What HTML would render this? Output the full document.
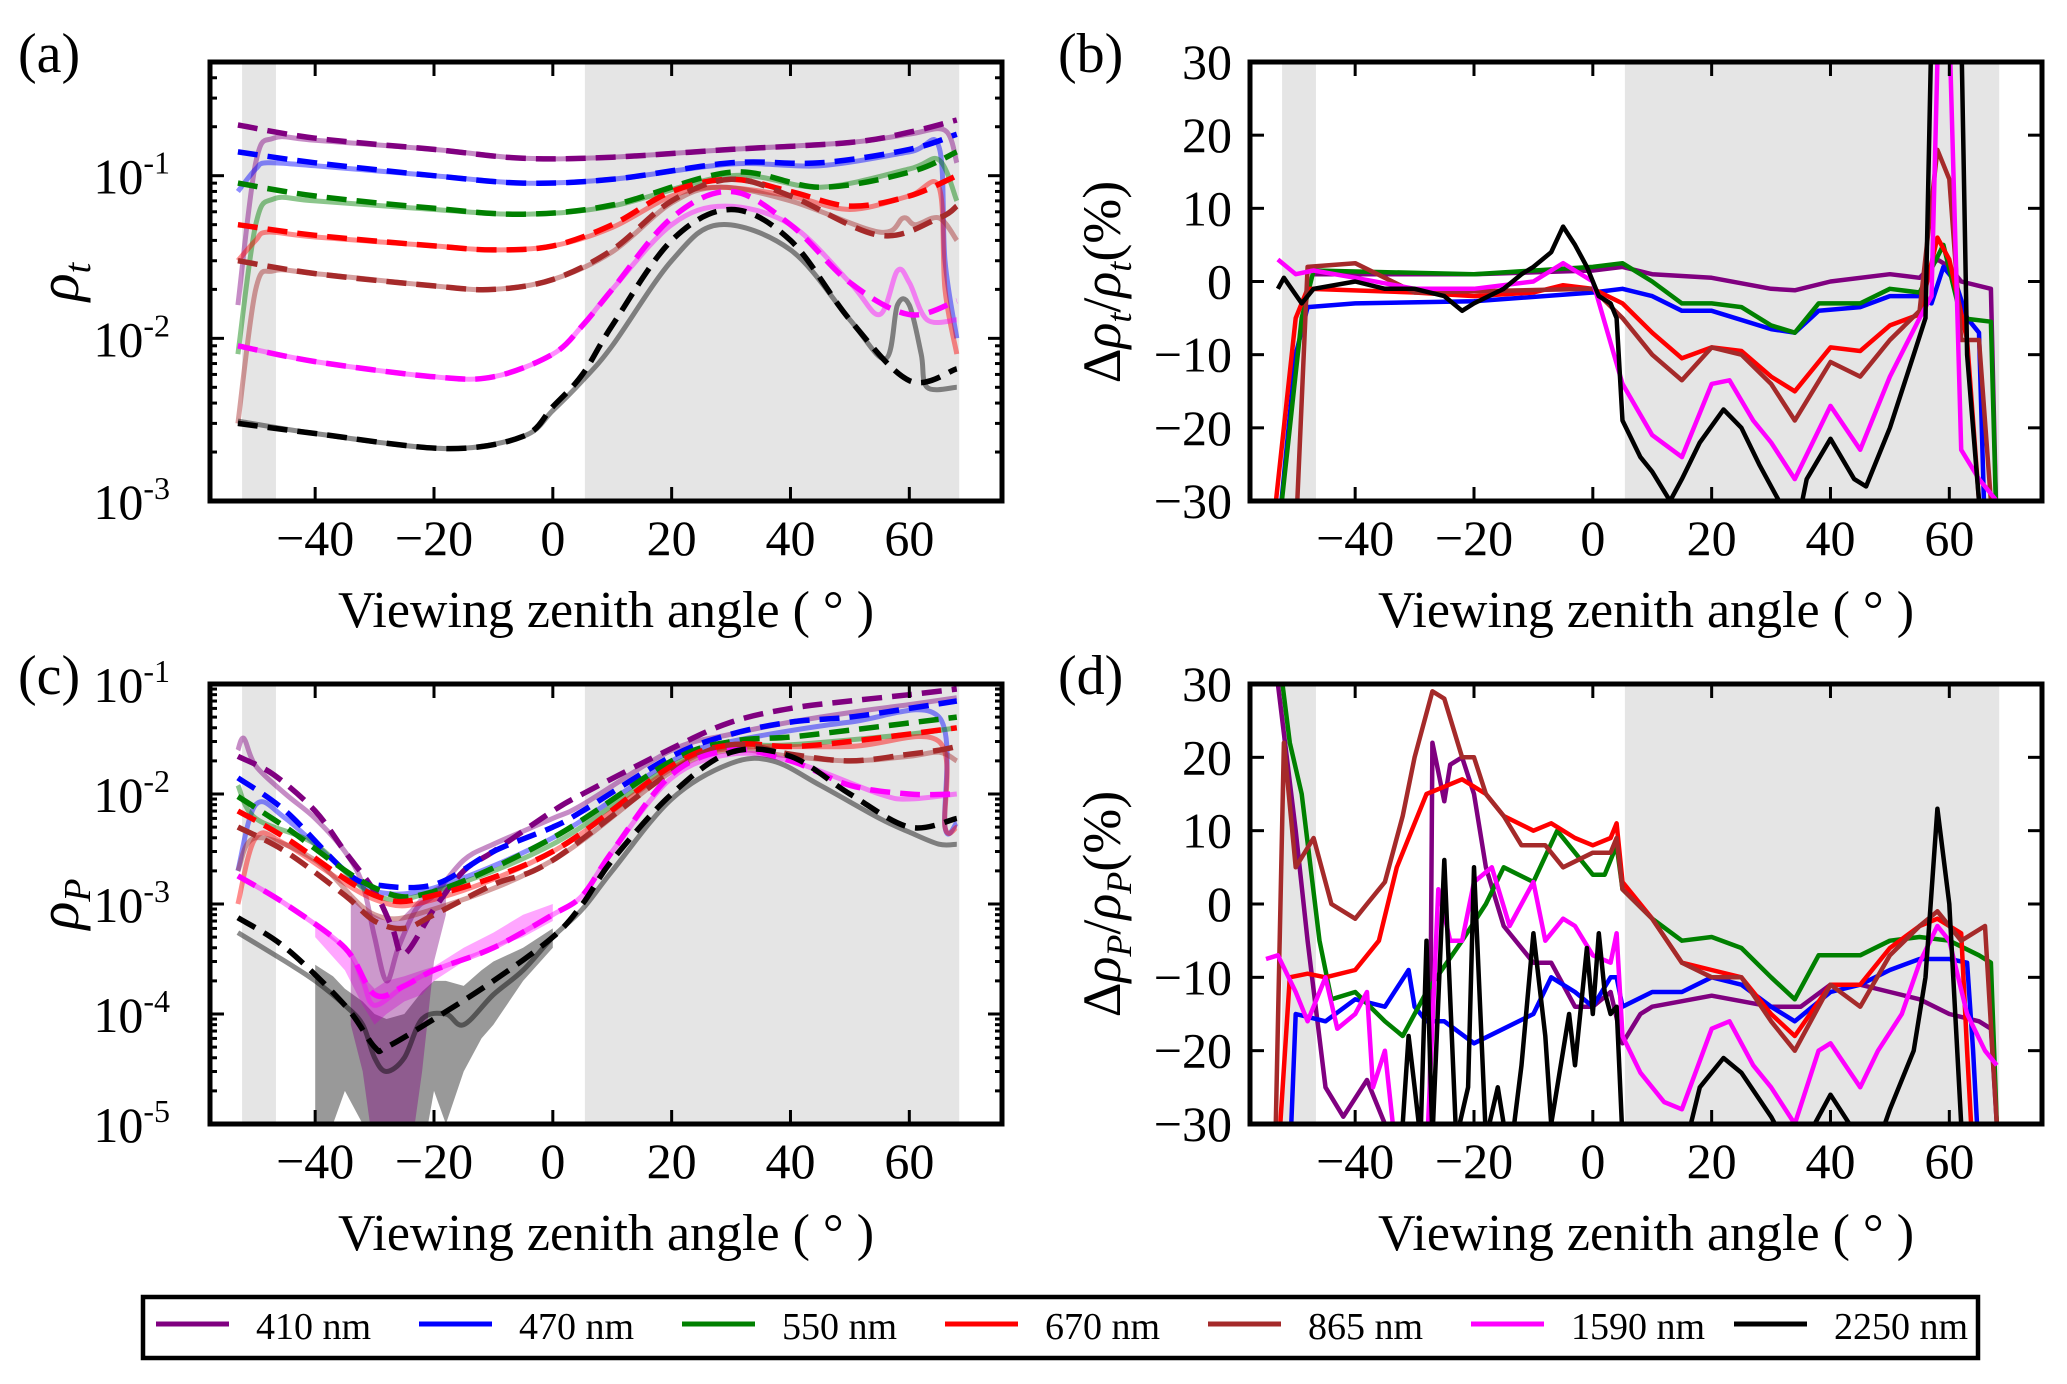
<!DOCTYPE html>
<html><head><meta charset="utf-8"><style>
html,body{margin:0;padding:0;background:#fff;}
svg{display:block;font-family:"Liberation Serif",serif;}
</style></head><body>
<svg id="fig" width="2067" height="1384" viewBox="0 0 2067 1384" xmlns="http://www.w3.org/2000/svg"></svg>
<script>
// ---------- shared ----------
const xTicks = [-40,-20,0,20,40,60];
const xTickLabels = ["\u221240","\u221220","0","20","40","60"];
const linTicks = [-30,-20,-10,0,10,20,30];
const linTickLabels = ["\u221230","\u221220","\u221210","0","10","20","30"];
const shadeBands = [[-52.3,-46.6],[5.4,68.4]];
const wavelengths = ["410 nm","470 nm","550 nm","670 nm","865 nm","1590 nm","2250 nm"];
const colors = ["#800080","#0000ff","#008000","#ff0000","#a52a2a","#ff00ff","#000000"];

// ---------- panel (a) rho_t : model (dashed) ----------
const aM410x=[-53,-40,-20,-5,10,30,50,60,68], aM410y=[0.205,0.17,0.145,0.128,0.13,0.145,0.16,0.185,0.22];
const aM470x=[-53,-40,-20,-5,10,30,45,60,68], aM470y=[0.14,0.12,0.1,0.09,0.095,0.12,0.12,0.145,0.18];
const aM550x=[-53,-40,-20,-5,10,30,45,60,68], aM550y=[0.09,0.075,0.063,0.058,0.066,0.105,0.085,0.105,0.14];
const aM670x=[-53,-40,-20,-10,0,10,20,30,40,50,60,68], aM670y=[0.05,0.043,0.037,0.035,0.037,0.05,0.08,0.095,0.08,0.065,0.075,0.1];
const aM865x=[-53,-40,-20,-10,0,10,20,30,40,55,65,68], aM865y=[0.03,0.025,0.021,0.02,0.023,0.035,0.07,0.095,0.075,0.043,0.055,0.065];
const aM1590x=[-53,-40,-20,-10,0,5,10,20,30,40,50,60,68], aM1590y=[0.009,0.0072,0.0058,0.0058,0.008,0.012,0.02,0.055,0.08,0.05,0.022,0.014,0.017];
const aM2250x=[-53,-40,-18,-5,0,5,10,20,30,40,50,60,68], aM2250y=[0.003,0.0026,0.0021,0.0025,0.0038,0.006,0.012,0.04,0.062,0.04,0.013,0.0055,0.0065];
// ---------- panel (a) rho_t : measured (solid) ----------
const aS410x=[-53,-50,-47,-40,-20,-5,10,30,50,60,66,68], aS410y=[0.016,0.12,0.17,0.165,0.145,0.128,0.13,0.145,0.16,0.18,0.19,0.12];
const aS470x=[-53,-50,-48,-40,-20,-5,10,30,45,60,65,66,68], aS470y=[0.08,0.11,0.12,0.115,0.1,0.09,0.095,0.118,0.115,0.14,0.15,0.03,0.01];
const aS550x=[-53,-50,-47,-40,-20,-5,10,30,45,60,65,68], aS550y=[0.008,0.05,0.072,0.07,0.062,0.058,0.065,0.1,0.085,0.11,0.125,0.07];
const aS670x=[-53,-50,-48,-40,-20,-10,0,10,20,28,40,50,60,65,66,68], aS670y=[0.03,0.04,0.045,0.042,0.037,0.035,0.037,0.048,0.075,0.085,0.075,0.062,0.075,0.085,0.02,0.008];
const aS865x=[-53,-50,-47,-40,-20,-10,0,10,20,28,40,55,59,61,65,68], aS865y=[0.003,0.02,0.026,0.025,0.021,0.02,0.023,0.034,0.068,0.085,0.07,0.045,0.055,0.05,0.055,0.04];
const aS1590x=[-53,-40,-20,-10,0,5,10,20,29,40,50,55,58,60,63,68], aS1590y=[0.009,0.0072,0.0058,0.0058,0.008,0.012,0.02,0.05,0.065,0.05,0.022,0.014,0.026,0.022,0.013,0.013];
const aS2250x=[-53,-40,-18,-5,0,5,10,20,28,40,50,56,58,60,62,63,68], aS2250y=[0.0031,0.0026,0.0021,0.0025,0.0036,0.0055,0.009,0.03,0.05,0.035,0.013,0.0075,0.016,0.016,0.008,0.005,0.005];

// ---------- panel (b) delta rho_t (%) ----------
const b410x=[-47,-40,-20,0,5,10,20,30,34,40,50,55,58,60,62,67,68], b410y=[1,1,1,1.5,2,1,0.5,-1,-1.2,0,1,0.5,3,2,0,-1,-35];
const b470x=[-53,-50,-48,-40,-20,0,5,10,15,20,30,34,38,45,50,55,57,59,61,63,65,66], b470y=[-35,-10,-3.5,-3,-2.7,-1.5,-1,-2,-4,-4,-6.5,-7,-4,-3.5,-2,-2,-3,2,0,-5,-7,-35];
const b550x=[-53,-49,-47,-20,0,5,10,15,20,25,30,34,38,45,50,55,59,62,67,68], b550y=[-35,-5,1.5,1,2,2.5,0,-3,-3,-3.5,-6,-7,-3,-3,-1,-1.5,5,-5,-5.5,-35];
const b670x=[-54,-50,-48,-30,-20,-10,-5,0,5,10,15,20,25,30,34,40,45,50,55,58,60,63,65,66], b670y=[-35,-5,-1,-1.5,-2,-1.5,-0.5,-1,-3,-7,-10.5,-9,-9.5,-13,-15,-9,-9.5,-6,-4.5,6,3,-8,-30,-35];
const b865x=[-50,-48,-40,-30,0,5,10,15,20,25,30,34,40,45,50,55,58,60,62,65,67], b865y=[-35,2,2.5,-1.5,-1,-5,-10,-13.5,-9,-10,-14,-19,-11,-13,-8,-4,18,14,-8,-8,-30];
const b1590x=[-53,-50,-47,-40,-30,-20,-10,-5,0,5,10,15,20,23,27,30,34,40,45,50,55,57,58,60,62,65,68], b1590y=[3,1,1.5,0.5,-1,-1,0,2.5,0,-14,-21,-24,-14,-13.5,-19,-22,-27,-17,-23,-13,-5,-2,30,35,-23,-27,-30];
const b2250x=[-53,-52,-49,-47,-40,-35,-30,-25,-22,-20,-15,-12,-10,-7,-5,-3,-1,1,3,4,5,8,10,13,15,18,22,25,28,32,34,36,40,44,46,50,54,56,57,62,63,65], b2250y=[-1,0.5,-3,-1,0,-1,-1,-2,-4,-3,-1,1,2,4,7.5,5,2,-2,-3,-5,-19,-24,-26,-30,-27,-22,-17.5,-20,-25,-31,-35,-27,-21.5,-27,-28,-20,-10,-5,35,35,-10,-30];

// ---------- panel (c) rho_P : model (dashed) ----------
const cM410x=[-53,-47,-40,-35,-30,-27,-25,-20,-15,-10,0,5,20,30,40,50,60,68], cM410y=[0.022,0.015,0.007,0.003,0.0013,0.0006,0.00035,0.0009,0.002,0.003,0.007,0.01,0.026,0.045,0.06,0.07,0.08,0.09];
const cM470x=[-53,-45,-35,-30,-20,-10,0,5,20,30,40,50,60,68], cM470y=[0.014,0.007,0.002,0.0015,0.0015,0.003,0.005,0.007,0.022,0.035,0.045,0.05,0.06,0.07];
const cM550x=[-53,-45,-30,-20,0,20,30,40,50,68], cM550y=[0.0095,0.005,0.0014,0.0013,0.004,0.02,0.03,0.033,0.038,0.05];
const cM670x=[-53,-45,-30,-20,0,20,30,40,50,68], cM670y=[0.007,0.004,0.0012,0.0012,0.003,0.018,0.028,0.027,0.03,0.04];
const cM865x=[-53,-45,-35,-30,-25,-20,-10,0,20,30,40,50,60,65,68], cM865y=[0.005,0.003,0.0012,0.0007,0.0006,0.0008,0.0015,0.0025,0.016,0.028,0.023,0.02,0.023,0.025,0.027];
const cM1590x=[-53,-45,-35,-30,-25,-20,-10,0,5,10,20,30,40,50,60,68], cM1590y=[0.0018,0.001,0.0004,0.00015,0.00018,0.00025,0.0004,0.0008,0.0012,0.003,0.015,0.025,0.02,0.012,0.01,0.01];
const cM2250x=[-53,-45,-35,-30,-28,-20,-10,0,5,10,20,30,40,50,60,68], cM2250y=[0.00075,0.0004,0.00012,0.00005,0.00005,0.00009,0.0002,0.0005,0.001,0.0025,0.01,0.024,0.022,0.01,0.005,0.006];
// ---------- panel (c) rho_P : measured (solid) ----------
const cS410x=[-53,-52,-50,-45,-40,-35,-32,-30,-28,-26,-23,-20,-15,-10,0,5,20,30,40,50,60,68], cS410y=[0.025,0.032,0.018,0.01,0.006,0.003,0.0015,0.0005,0.0002,0.0004,0.0009,0.0012,0.0025,0.0035,0.006,0.008,0.025,0.035,0.045,0.055,0.065,0.075];
const cS470x=[-53,-50,-45,-35,-30,-20,0,20,30,50,65,66,68], cS470y=[0.002,0.008,0.006,0.002,0.0013,0.0014,0.004,0.02,0.03,0.045,0.05,0.005,0.0055];
const cS550x=[-53,-50,-40,-30,-20,0,20,30,40,60,68], cS550y=[0.012,0.006,0.0035,0.0012,0.0013,0.0035,0.018,0.027,0.028,0.035,0.04];
const cS670x=[-53,-50,-45,-30,-20,0,20,30,50,65,66,68], cS670y=[0.001,0.004,0.0035,0.0011,0.0011,0.003,0.017,0.026,0.027,0.03,0.005,0.005];
const cS865x=[-53,-50,-40,-30,-20,0,20,30,40,50,60,65,68], cS865y=[0.002,0.004,0.0025,0.0008,0.0009,0.0025,0.016,0.025,0.022,0.02,0.022,0.024,0.02];
const cS1590x=[-53,-45,-35,-32,-30,-25,-20,-10,0,5,10,20,30,40,55,60,68], cS1590y=[0.0018,0.001,0.0004,0.0002,0.00012,0.00018,0.00025,0.0004,0.0008,0.0012,0.003,0.014,0.023,0.02,0.01,0.009,0.01];
const cS2250x=[-53,-45,-40,-35,-32,-30,-28,-25,-22,-18,-15,-10,-5,0,5,10,20,30,37,45,55,60,65,68], cS2250y=[0.00055,0.0003,0.0002,0.00012,0.00008,0.00004,0.00003,0.00004,0.00009,0.0001,0.00008,0.00015,0.00025,0.0005,0.0009,0.002,0.009,0.019,0.02,0.012,0.006,0.0045,0.0035,0.0035];
// uncertainty bands (c)
const cBandGrayX=[-40,-37,-35,-32,-30,-28,-25,-22,-20,-18,-15,-12,-10,-5,0], cBandGrayLo=[0.00001,0.00001,0.00002,0.00001,0.000005,0.000005,0.000005,0.000005,0.00002,0.00001,0.00003,0.00006,0.00008,0.0002,0.0004], cBandGrayHi=[0.00028,0.00022,0.00017,0.00013,0.0001,0.00009,0.0001,0.00016,0.0002,0.0002,0.00018,0.00025,0.0003,0.0004,0.0006];
const cBandPurX=[-34,-32,-30,-28,-26,-24,-22,-20,-18], cBandPurLo=[0.00008,0.00003,0.000005,0.000005,0.000005,0.000005,0.00003,0.0003,0.0008], cBandPurHi=[0.0012,0.0009,0.0008,0.0007,0.0007,0.0009,0.0012,0.0014,0.0016];
const cBandMagX=[-40,-35,-32,-30,-28,-25,-22,-20,-15,-10,-5,0], cBandMagLo=[0.0005,0.00025,0.00012,0.00008,0.0001,0.00013,0.00015,0.0002,0.0003,0.0004,0.0005,0.0007], cBandMagHi=[0.0007,0.0004,0.00022,0.00017,0.0002,0.00022,0.00025,0.00027,0.0004,0.00055,0.0008,0.001];

// ---------- panel (d) delta rho_P (%) ----------
const d410x=[-53,-50,-48,-45,-42,-38,-35,-30,-27.5,-27,-25,-24,-22,-20,-18,-15,-10,-7,-3,0,3,5,8,10,20,30,35,40,45,50,55,60,65,67,68], d410y=[30,10,-5,-25,-29,-24,-30,-35,-35,22,14,19,20,15,5,-3,-8,-8,-14,-14,-12,-19,-15,-14,-12.5,-14,-14,-11,-11,-12,-13,-15,-16,-17,-30];
const d470x=[-53,-51,-50,-45,-40,-35,-31,-30,-28,-25,-20,-15,-10,-7,-3,0,3,4,5,10,15,20,25,30,34,40,45,50,55,60,63,64,65], d470y=[-35,-35,-15,-16,-13,-14,-9,-14,-16,-16,-19,-17,-15,-10,-12,-14,-10,-10,-14,-12,-12,-10,-11,-14,-16,-12,-11,-9,-7.5,-7.5,-8,-20,-35];
const d550x=[-53,-51,-49,-46,-44,-40,-35,-32,-28,-22,-18,-15,-10,-6,-3,0,2,4,5,10,15,20,25,30,34,38,45,50,55,60,65,67,68], d550y=[35,22,15,-5,-13,-12,-16,-18,-12,-5,0,5,3,10,7,4,4,8,2,-2,-5,-4.5,-6,-10,-13,-7,-7,-5,-4.5,-5,-7,-8,-30];
const d670x=[-53,-51,-48,-45,-40,-36,-33,-30,-28,-25,-22,-18,-15,-10,-7,-3,0,3,4,5,10,15,20,25,30,34,40,45,50,55,58,62,63,64], d670y=[-35,-10,-9.5,-10,-9,-5,5,11,15,16,17,15,12,10,11,9,8,9,11,3,-2,-8,-9,-10,-15,-18,-11,-11,-6,-3,-2,-4,-20,-35];
const d865x=[-53.5,-52,-50,-47,-44,-40,-38,-35,-32,-30,-27,-25,-22,-20,-18,-15,-12,-8,-5,0,3,4,5,10,15,20,25,30,34,40,45,50,55,58,62,66,68], d865y=[-35,22,5,9,0,-2,0,3,12,20,29,28,20,20,15,12,8,8,5,7,7,9,2,-2,-8,-10,-10,-16,-20,-11,-14,-7,-3,-1,-5,-3,-30];
const d1590x=[-55,-53,-50,-48,-45,-43,-40,-38,-37,-35,-33,-28,-26,-24,-22,-20,-17,-14,-10,-8,-5,-3,0,3,4,5,8,12,15,20,23,27,30,34,38,40,45,48,52,55,58,60,63,66,68], d1590y=[-7.5,-7,-12,-16,-10,-17,-15,-12,-25,-20,-35,-35,2,-5,-5,3,5,-3,3,-5,-2,-3,-7,-8,-4,-18,-23,-27,-28,-17,-16,-22,-25,-30,-20,-19,-25,-20,-15,-8,-3,-5,-15,-20,-22];
const d2250x=[-32,-31,-30,-29,-28,-27,-25,-23,-21,-20,-18,-16,-14,-12,-10,-8,-7,-6,-4,-3,-1,0,1,2,3,4,5,15,18,22,25,30,34,40,44,47,50,54,56,58,60,62,64], d2250y=[-30,-18,-25,-32,-5,-32,6,-32,-25,5,-32,-25,-35,-22,-4,-18,-30,-25,-15,-22,-6,-15,-4,-12,-15,-14,-32,-35,-25,-21,-23,-29,-35,-26,-31,-35,-28,-20,-10,13,0,-30,-35];

// ---------- geometry ----------
const XMIN=-57.7, XMAX=75.6;
const panels = {
  a:{x0:210,x1:1002,y0:62,y1:501,log:true,ymin:-3,ymax:Math.log10(0.5)},
  b:{x0:1250,x1:2042,y0:62,y1:501,log:false,ymin:-30,ymax:30},
  c:{x0:210,x1:1002,y0:684,y1:1124,log:true,ymin:-5,ymax:-1},
  d:{x0:1250,x1:2042,y0:684,y1:1124,log:false,ymin:-30,ymax:30}
};
const NS="http://www.w3.org/2000/svg";
const svg=document.getElementById('fig');
function el(tag, attrs, parent){
  const e=document.createElementNS(NS,tag);
  for(const k in attrs) e.setAttribute(k,attrs[k]);
  (parent||svg).appendChild(e);
  return e;
}
function sx(p,x){return p.x0+(x-XMIN)/(XMAX-XMIN)*(p.x1-p.x0);}
function sy(p,v){
  const t = p.log ? Math.log10(Math.max(v,1e-9)) : v;
  return p.y1-(t-p.ymin)/(p.ymax-p.ymin)*(p.y1-p.y0);
}
function pathD(p,xs,ys,smooth){
  const P=xs.map((x,i)=>[sx(p,x),sy(p,ys[i])]);
  if(!smooth) return P.map((q,i)=>(i?'L':'M')+q[0].toFixed(1)+' '+q[1].toFixed(1)).join(' ');
  let d='M'+P[0][0].toFixed(1)+' '+P[0][1].toFixed(1);
  for(let i=0;i<P.length-1;i++){
    const p0=P[Math.max(i-1,0)],p1=P[i],p2=P[i+1],p3=P[Math.min(i+2,P.length-1)];
    const c1=[p1[0]+(p2[0]-p0[0])/6,p1[1]+(p2[1]-p0[1])/6];
    const c2=[p2[0]-(p3[0]-p1[0])/6,p2[1]-(p3[1]-p1[1])/6];
    d+=' C'+c1[0].toFixed(1)+' '+c1[1].toFixed(1)+' '+c2[0].toFixed(1)+' '+c2[1].toFixed(1)+' '+p2[0].toFixed(1)+' '+p2[1].toFixed(1);
  }
  return d;
}
const defs=el('defs',{});
function setupPanel(key){
  const p=panels[key];
  const cp=el('clipPath',{id:'clip-'+key},defs);
  el('rect',{x:p.x0,y:p.y0,width:p.x1-p.x0,height:p.y1-p.y0},cp);
  const g=el('g',{'clip-path':'url(#clip-'+key+')'});
  
  
  shadeBands.forEach((b,i)=>{
    const r=el('rect',{x:sx(p,b[0]),y:p.y0,width:sx(p,b[1])-sx(p,b[0]),height:p.y1-p.y0,fill:'#e5e5e5'},g);
    
    
  });
  return g;
}
function line(p,g,xs,ys,color,opts,name){
  const a={d:pathD(p,xs,ys,opts.smooth),fill:'none',stroke:color,'stroke-width':opts.w||3.5,'stroke-linejoin':'round'};
  if(opts.dash) a['stroke-dasharray']=opts.dash;
  if(opts.op) a['stroke-opacity']=opts.op;
  const e=el('path',a,g);
  
  
}
function band(p,g,xs,lo,hi,color,op,name){
  let d=xs.map((x,i)=>(i?'L':'M')+sx(p,x).toFixed(1)+' '+sy(p,hi[i]).toFixed(1)).join(' ');
  for(let i=xs.length-1;i>=0;i--) d+=' L'+sx(p,xs[i]).toFixed(1)+' '+sy(p,lo[i]).toFixed(1);
  const e=el('path',{d:d+' Z',fill:color,'fill-opacity':op},g);
  
  
}
function text(x,y,str,size,anchor,name,extra){
  const t=el('text',Object.assign({x:x,y:y,'font-size':size,'text-anchor':anchor||'middle',fill:'#000'},extra||{}));
  t.textContent=str;
  
  
  return t;
}
function axes(key){
  const p=panels[key];
  const g=el('g',{});
  
  
  const st={stroke:'#000','stroke-width':3};
  xTicks.forEach((t,i)=>{
    const x=sx(p,t);
    el('line',Object.assign({x1:x,x2:x,y1:p.y1,y2:p.y1-14},st),g);
    el('line',Object.assign({x1:x,x2:x,y1:p.y0,y2:p.y0+14},st),g);
    text(x,p.y1+54,xTickLabels[i],50,'middle','x-tick-label-'+key);
  });
  if(p.log){
    for(let d=p.ymin; d<Math.ceil(p.ymax)+1; d++){
      for(let m=1;m<10;m++){
        const v=m*Math.pow(10,d);
        const lv=Math.log10(v);
        if(lv>p.ymax+1e-6||lv<p.ymin-1e-6) continue;
        const y=sy(p,v), L=m===1?14:7;
        el('line',Object.assign({x1:p.x0,x2:p.x0+L,y1:y,y2:y},st),g);
        el('line',Object.assign({x1:p.x1,x2:p.x1-L,y1:y,y2:y},st),g);
        if(m===1){
          const t=text(p.x0-40,y+18,'10',50,'end','y-tick-label-'+key);
          const s=el('tspan',{dy:-20,'font-size':32},t); s.textContent='-'+(-d);
        }
      }
    }
  } else {
    linTicks.forEach((t,i)=>{
      const y=sy(p,t);
      el('line',Object.assign({x1:p.x0,x2:p.x0+14,y1:y,y2:y},st),g);
      el('line',Object.assign({x1:p.x1,x2:p.x1-14,y1:y,y2:y},st),g);
      text(p.x0-18,y+17,linTickLabels[i],50,'end','y-tick-label-'+key);
    });
  }
  const fr=el('rect',{x:p.x0,y:p.y0,width:p.x1-p.x0,height:p.y1-p.y0,fill:'none',stroke:'#000','stroke-width':5},g);
  
  
  text((p.x0+p.x1)/2,p.y1+126,'Viewing zenith angle ( \u00B0 )',52,'middle','x-axis-title-'+key);
}
const DASH='20,10';
// ---- panel a ----
{
  const p=panels.a, g=setupPanel('a');
  const S=[[aS410x,aS410y],[aS470x,aS470y],[aS550x,aS550y],[aS670x,aS670y],[aS865x,aS865y],[aS1590x,aS1590y],[aS2250x,aS2250y]];
  const M=[[aM410x,aM410y],[aM470x,aM470y],[aM550x,aM550y],[aM670x,aM670y],[aM865x,aM865y],[aM1590x,aM1590y],[aM2250x,aM2250y]];
  S.forEach((s,i)=>line(p,g,s[0],s[1],colors[i],{w:5,op:0.45,smooth:true},'measured-line-a-'+i));
  M.forEach((s,i)=>line(p,g,s[0],s[1],colors[i],{w:5.5,dash:DASH,smooth:true},'model-line-a-'+i));
  axes('a');
}
// ---- panel b ----
{
  const p=panels.b, g=setupPanel('b');
  const B=[[b410x,b410y],[b470x,b470y],[b550x,b550y],[b670x,b670y],[b865x,b865y],[b1590x,b1590y],[b2250x,b2250y]];
  B.forEach((s,i)=>line(p,g,s[0],s[1],colors[i],{w:4.5},'diff-line-b-'+i));
  axes('b');
}
// ---- panel c ----
{
  const p=panels.c, g=setupPanel('c');
  band(p,g,cBandGrayX,cBandGrayLo,cBandGrayHi,'#000',0.4,'uncertainty-band-2250');
  band(p,g,cBandMagX,cBandMagLo,cBandMagHi,'#ff00ff',0.35,'uncertainty-band-1590');
  band(p,g,cBandPurX,cBandPurLo,cBandPurHi,'#800080',0.4,'uncertainty-band-410');
  const S=[[cS410x,cS410y],[cS470x,cS470y],[cS550x,cS550y],[cS670x,cS670y],[cS865x,cS865y],[cS1590x,cS1590y],[cS2250x,cS2250y]];
  const M=[[cM410x,cM410y],[cM470x,cM470y],[cM550x,cM550y],[cM670x,cM670y],[cM865x,cM865y],[cM1590x,cM1590y],[cM2250x,cM2250y]];
  S.forEach((s,i)=>line(p,g,s[0],s[1],colors[i],{w:5,op:0.45,smooth:true},'measured-line-c-'+i));
  M.forEach((s,i)=>line(p,g,s[0],s[1],colors[i],{w:5.5,dash:DASH,smooth:true},'model-line-c-'+i));
  axes('c');
}
// ---- panel d ----
{
  const p=panels.d, g=setupPanel('d');
  const D=[[d410x,d410y],[d470x,d470y],[d550x,d550y],[d670x,d670y],[d865x,d865y],[d1590x,d1590y],[d2250x,d2250y]];
  D.forEach((s,i)=>line(p,g,s[0],s[1],colors[i],{w:4.5},'diff-line-d-'+i));
  axes('d');
}
// ---- panel letters ----
text(18,72,'(a)',56,'start','panel-label-a');
text(1058,72,'(b)',56,'start','panel-label-b');
text(18,694,'(c)',56,'start','panel-label-c');
text(1058,694,'(d)',56,'start','panel-label-d');
// ---- y titles ----
(function(){
  let t=text(0,0,'',58,'middle','y-axis-title-a',{transform:'translate(78,282) rotate(-90)','font-style':'italic'});
  t.textContent='\u03C1'; let s=el('tspan',{dy:12,'font-size':38},t); s.textContent='t';
  t=text(0,0,'',58,'middle','y-axis-title-c',{transform:'translate(78,904) rotate(-90)','font-style':'italic'});
  t.textContent='\u03C1'; s=el('tspan',{dy:12,'font-size':38},t); s.textContent='P';
  function diffTitle(y,sub,name){
    const t=text(0,0,'',54,'middle',name,{transform:'translate(1120,'+y+') rotate(-90)'});
    const parts=[['\u0394',0,54,''],['\u03C1',0,54,'italic'],[sub,11,36,'italic'],['/',-11,54,''],['\u03C1',0,54,'italic'],[sub,11,36,'italic'],['(%)',-11,54,'']];
    parts.forEach(q=>{const s=el('tspan',{dy:q[1],'font-size':q[2]},t); if(q[3]) s.setAttribute('font-style',q[3]); s.textContent=q[0];});
  }
  diffTitle(282,'t','y-axis-title-b');
  diffTitle(904,'P','y-axis-title-d');
})();
// ---- legend ----
{
  const lg=el('g',{});
  
  
  el('rect',{x:143,y:1297,width:1835,height:61,fill:'#fff',stroke:'#000','stroke-width':4.5},lg);
  wavelengths.forEach((w,i)=>{
    const x=156+i*263;
    const ln=el('line',{x1:x,x2:x+73,y1:1324,y2:1324,stroke:colors[i],'stroke-width':5},lg);
    
    
    const t=text(x+100,1339,w,38,'start','legend-entry-'+w.replace(' ','-'));
    lg.appendChild(t);
  });
}
</script>
</body></html>
